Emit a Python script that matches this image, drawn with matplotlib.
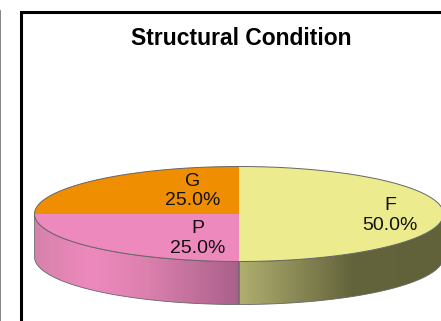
import matplotlib.pyplot as plt
import numpy as np
from matplotlib.colors import LinearSegmentedColormap
from matplotlib.patches import Polygon

plt.rcParams["font.family"] = ["Liberation Sans", "DejaVu Sans"]

title = "Structural Condition"
categories = ["F", "P", "G"]
values = [50.0, 25.0, 25.0]
top_colors = ["#ecec8e", "#ee89bd", "#ee8e00"]

# side wall shading, (position across the slice, colour), left to right
side_stops = {
    "F": [(0.0, "#b0af70"), (0.55, "#64643c"), (1.0, "#62623a")],
    "P": [(0.0, "#d682ab"), (0.27, "#ee89bd"), (0.55, "#dc80ae"), (1.0, "#a8608a")],
}

label_pos = {
    "F": (390, 215.5),
    "P": (197.5, 238.5),
    "G": (193, 191),
}

cx, cy = 239, 214
rx, ry = 204.5, 47.5
depth = 43


def rim(a0, a1, n=200):
    # angles run clockwise from 12 o'clock, y axis points down
    t = np.radians(np.linspace(a0, a1, n))
    return cx + rx * np.sin(t), cy - ry * np.cos(t)


fig = plt.figure(figsize=(4.41, 3.21), dpi=100)
ax = fig.add_axes([0, 0, 1, 1])
ax.set_xlim(0, 441)
ax.set_ylim(321, 0)
ax.axis("off")

# outer frame
ax.plot([21, 21, 441], [321, 11.5, 11.5], color="black", lw=2.2, solid_joinstyle="miter")
ax.plot([0.3, 0.3], [11, 321], color="#707070", lw=1.2)

start = 0.0
total = sum(values)
for name, value, color in zip(categories, values, top_colors):
    end = start + 360.0 * value / total

    # side wall, only the part facing the viewer
    a0, a1 = max(start, 90.0), min(end, 270.0)
    if a1 > a0 and name in side_stops:
        x, y = rim(a0, a1)
        pts = np.column_stack([np.r_[x, x[::-1]], np.r_[y, y[::-1] + depth]])
        wall = Polygon(pts, closed=True, facecolor="none", edgecolor="#66666a", lw=0.6, zorder=2)
        ax.add_patch(wall)
        left, right = x.min(), x.max()
        cmap = LinearSegmentedColormap.from_list(name, side_stops[name])
        img = ax.imshow(
            np.linspace(0, 1, 256).reshape(1, -1),
            cmap=cmap,
            extent=[left, right, cy + ry + depth + 1, cy - 1],
            aspect="auto",
            zorder=1,
        )
        img.set_clip_path(Polygon(pts, closed=True, transform=ax.transData))

    # top face
    x, y = rim(start, end)
    pts = np.column_stack([np.r_[cx, x], np.r_[cy, y]])
    ax.add_patch(Polygon(pts, closed=True, facecolor=color, edgecolor="none", zorder=3))
    ax.plot(x, y, color="#666666", lw=0.7, zorder=4)

    # label from the slice value
    lx, ly = label_pos[name]
    ax.text(
        lx, ly, f"{name}\n{value:.1f}%",
        ha="center", va="center", fontsize=14, color="#111111",
        linespacing=1.2, zorder=5,
    )
    start = end

ax.set_xlim(0, 441)
ax.set_ylim(321, 0)

ax.text(241.5, 38.5, title, ha="center", va="center", fontsize=16.5, fontweight="bold", color="black")

fig.savefig("out.png", dpi=100)
plt.close(fig)
